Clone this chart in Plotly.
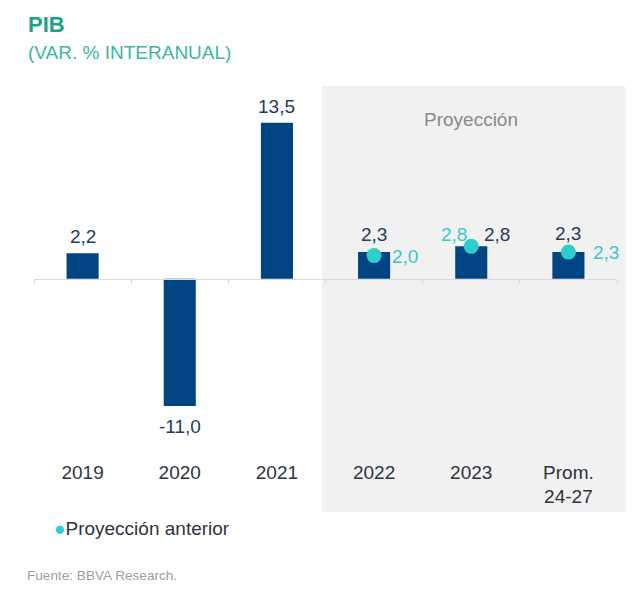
import plotly.graph_objects as go

# ---- data ----
categories = ["2019", "2020", "2021", "2022", "2023", "Prom.<br>24-27"]
pib_values = [2.2, -11.0, 13.5, 2.3, 2.8, 2.3]
prev_categories = ["2022", "2023", "Prom.<br>24-27"]
prev_values = [2.0, 2.8, 2.3]

# ---- label placement (style) ----
bar_label_xshift = [0, 0, 0, 0, 26, 0]
bar_label_yshift = [17, -21, 16, 18, 12, 19]
prev_label_xshift = [31, -17, 38]
prev_label_yshift = [-1, 12, 0]

NAVY = "#004481"
AQUA = "#2dcccd"
FONT = "Liberation Sans, Arial, sans-serif"


def fmt(v):
    return f"{v:.1f}".replace(".", ",")


y_min, y_max = -20.18, 16.67
zero_pos = (0 - y_min) / (y_max - y_min)

fig = go.Figure()

fig.add_trace(go.Bar(
    x=categories, y=pib_values, marker=dict(color=NAVY, line=dict(width=0)),
    showlegend=False, hoverinfo="skip",
))

fig.add_trace(go.Scatter(
    x=prev_categories, y=prev_values, mode="markers",
    marker=dict(color=AQUA, size=15),
    name="Proyección anterior", showlegend=False, hoverinfo="skip", cliponaxis=False,
))

# shaded projection panel
fig.add_shape(type="rect", xref="paper", yref="paper", x0=0.494, x1=1.014, y0=0, y1=1,
              fillcolor="#f1f1f1", line=dict(width=0), layer="below")

# category positions (index on the category axis)
cat_index = {c: i for i, c in enumerate(categories)}

annotations = []
for c, v, dx, dy in zip(categories, pib_values, bar_label_xshift, bar_label_yshift):
    annotations.append(dict(
        text=fmt(v), x=cat_index[c], y=v, xref="x", yref="y", showarrow=False,
        xanchor="center", yanchor="middle", xshift=dx, yshift=dy,
        font=dict(family=FONT, size=19, color="#233c5e")))
for c, v, dx, dy in zip(prev_categories, prev_values, prev_label_xshift, prev_label_yshift):
    annotations.append(dict(
        text=fmt(v), x=cat_index[c], y=v, xref="x", yref="y", showarrow=False,
        xanchor="center", yanchor="middle", xshift=dx, yshift=dy,
        font=dict(family=FONT, size=19, color="#3cc7c7")))

annotations += [
    dict(text="<b>PIB</b>", xref="paper", yref="paper", x=-0.014, y=1.1444,
         xanchor="left", yanchor="middle", showarrow=False,
         font=dict(family=FONT, size=22, color="#1fa386")),
    dict(text="(VAR. % INTERANUAL)", xref="paper", yref="paper", x=-0.014, y=1.0798,
         xanchor="left", yanchor="middle", showarrow=False,
         font=dict(family=FONT, size=19, color="#3cb8a0")),
    dict(text="Proyección", xref="x", yref="paper", x=cat_index["2023"], y=0.9225,
         xanchor="center", yanchor="middle", showarrow=False,
         font=dict(family=FONT, size=19, color="#8a8a8a")),
    dict(text=f'<span style="color:{AQUA}">●</span>Proyección anterior', xref="paper", yref="paper",
         x=0.031, y=-0.0376, xanchor="left", yanchor="middle", showarrow=False,
         font=dict(family=FONT, size=19, color="#2d3440")),
    dict(text="Fuente: BBVA Research.", xref="paper", yref="paper", x=-0.016, y=-0.148,
         xanchor="left", yanchor="middle", showarrow=False,
         font=dict(family=FONT, size=13.6, color="#a0a0a0")),
]

fig.update_layout(
    width=632, height=583,
    margin=dict(l=26, r=23, t=78, b=79),
    paper_bgcolor="white", plot_bgcolor="rgba(0,0,0,0)",
    bargap=0.67,
    separators=",.",
    annotations=annotations,
    font=dict(family=FONT),
    xaxis=dict(
        type="category", categoryorder="array", categoryarray=categories,
        range=[-0.5, 5.5], anchor="free", position=zero_pos,
        showline=True, linecolor="#d9d9d9", linewidth=1,
        ticks="outside", tickson="boundaries", ticklen=4, tickcolor="#d9d9d9",
        showgrid=False, zeroline=False,
        tickfont=dict(family=FONT, size=19, color="#2d3440"),
        ticklabelstandoff=176,
    ),
    yaxis=dict(range=[y_min, y_max], visible=False, showgrid=False, zeroline=False),
)

fig.write_html("out.html")
